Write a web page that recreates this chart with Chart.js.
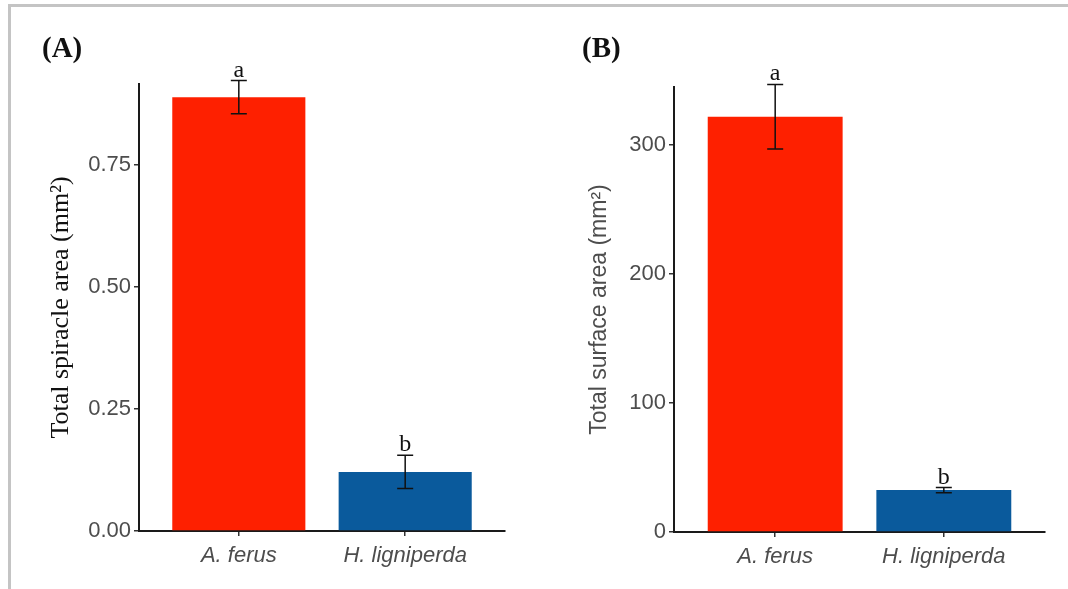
<!DOCTYPE html>
<html>
<head>
<meta charset="utf-8">
<script src="https://cdn.jsdelivr.net/npm/chart.js@4"></script>
<style>
  body { margin: 0; background: #fff; width: 1068px; height: 589px; overflow: hidden; position: relative; }
  .frame { position: absolute; left: 8px; top: 4px; right: 0; bottom: 0; border-top: 3px solid #c4c4c4; border-left: 3px solid #c4c4c4; }
  .panel { position: absolute; top: 0; height: 589px; }
  .tag { position: absolute; top: 31px; font: bold 29px "Liberation Serif", serif; color: #111; }
</style>
</head>
<body>
<div class="frame"></div>
<div class="panel" style="left:0;width:540px"><canvas id="chartA" width="540" height="589"></canvas></div>
<div class="panel" style="left:540px;width:528px"><canvas id="chartB" width="528" height="589"></canvas></div>
<div class="tag" style="left:42px">(A)</div>
<div class="tag" style="left:582px">(B)</div>
<script>
// species on the x axis (ggplot discrete positions 1 and 2)
const species = ['A. ferus', 'H. ligniperda'];
const speciesPos = [1, 2];
const barColors = ['#fe2000', '#0a5a9c'];

// panel A - total spiracle area
const spiracleArea = [0.889, 0.121];
const spiracleSE = [0.034, 0.034];
const spiracleLetters = ['a', 'b'];
const spiracleTicks = [0, 0.25, 0.5, 0.75];

// panel B - total surface area
const surfaceArea = [322, 32.5];
const surfaceSE = [25, 2];
const surfaceLetters = ['a', 'b'];
const surfaceTicks = [0, 100, 200, 300];

const sans = '"Liberation Sans", Arial, sans-serif';
const serif = '"Liberation Serif", "Times New Roman", serif';

// error bars + significance letters, drawn through the chart scales
function errorPlugin(means, errors, letters) {
  return {
    id: 'errorBars',
    afterDraw(chart) {
      const { ctx, scales: { x, y } } = chart;
      ctx.save();
      ctx.strokeStyle = '#111';
      ctx.lineWidth = 1.5;
      means.forEach((m, i) => {
        const cx = x.getPixelForValue(speciesPos[i]);
        const hi = y.getPixelForValue(m + errors[i]);
        const lo = y.getPixelForValue(m - errors[i]);
        ctx.beginPath();
        ctx.moveTo(cx, hi); ctx.lineTo(cx, lo);
        ctx.moveTo(cx - 8, hi); ctx.lineTo(cx + 8, hi);
        ctx.moveTo(cx - 8, lo); ctx.lineTo(cx + 8, lo);
        ctx.stroke();
        ctx.font = '24px ' + serif;
        ctx.fillStyle = '#111';
        ctx.textAlign = 'center';
        ctx.textBaseline = 'alphabetic';
        ctx.fillText(letters[i], cx, hi - 4);
      });
      ctx.restore();
    }
  };
}

function makeChart(id, cfg) {
  return new Chart(document.getElementById(id), {
    type: 'bar',
    data: {
      datasets: [{
        data: cfg.means.map((v, i) => ({ x: speciesPos[i], y: v })),
        backgroundColor: barColors,
        borderWidth: 0,
        categoryPercentage: 1,
        barPercentage: 0.8
      }]
    },
    options: {
      responsive: false,
      animation: false,
      layout: { padding: { top: cfg.padTop, right: cfg.padRight, left: 0, bottom: 0 } },
      plugins: { legend: { display: false }, tooltip: { enabled: false } },
      scales: {
        x: {
          type: 'linear',
          min: 0.4,
          max: 2.6,
          offset: false,
          z: 1,
          afterBuildTicks: (s) => { s.ticks = speciesPos.map(v => ({ value: v })); },
          afterFit: (s) => { s.height = cfg.xHeight; },
          grid: { display: true, offset: false, drawOnChartArea: false, drawTicks: true, tickLength: 5, color: '#333', lineWidth: 1.5 },
          border: { display: true, color: '#1a1a1a', width: 2 },
          ticks: {
            maxRotation: 0,
            padding: 7,
            color: '#4d4d4d',
            font: { family: sans, size: 22, style: 'italic' },
            callback: (v, i) => species[i]
          }
        },
        y: {
          min: 0,
          max: cfg.yMax,
          afterBuildTicks: (s) => { s.ticks = cfg.ticks.map(v => ({ value: v })); },
          afterFit: (s) => { s.width = cfg.yWidth; },
          grid: { display: true, drawOnChartArea: false, drawTicks: true, tickLength: 5, color: '#333', lineWidth: 1.5 },
          border: { display: true, color: '#1a1a1a', width: 2 },
          ticks: {
            padding: 3,
            color: '#4d4d4d',
            font: { family: sans, size: 22 },
            callback: (v) => v.toFixed(cfg.decimals)
          },
          title: {
            display: true,
            text: cfg.title,
            color: cfg.titleColor,
            font: cfg.titleFont,
            padding: { top: cfg.titlePad, bottom: 0 }
          }
        }
      }
    },
    plugins: [errorPlugin(cfg.means, cfg.errors, cfg.letters)]
  });
}

makeChart('chartA', {
  means: spiracleArea, errors: spiracleSE, letters: spiracleLetters, ticks: spiracleTicks,
  yMax: 0.916, decimals: 2,
  padTop: 84, padRight: 35, yWidth: 139, xHeight: 58,
  title: 'Total spiracle area (mm²)', titleColor: '#111',
  titleFont: { family: serif, size: 26 }, titlePad: 46
});

makeChart('chartB', {
  means: surfaceArea, errors: surfaceSE, letters: surfaceLetters, ticks: surfaceTicks,
  yMax: 345, decimals: 0,
  padTop: 87, padRight: 23, yWidth: 134, xHeight: 57,
  title: 'Total surface area (mm²)', titleColor: '#4d4d4d',
  titleFont: { family: sans, size: 23 }, titlePad: 46
});
</script>
</body>
</html>
